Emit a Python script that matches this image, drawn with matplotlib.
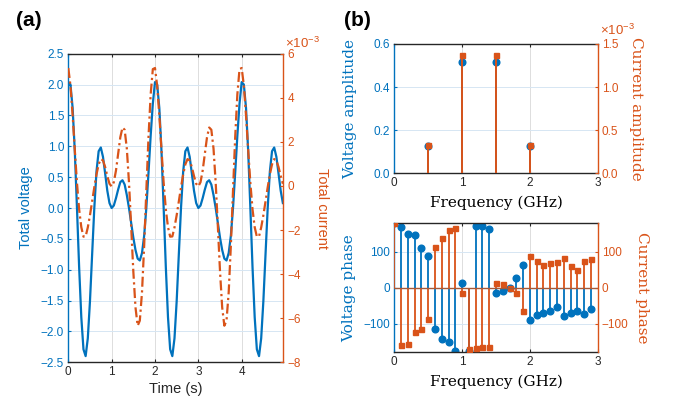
import numpy as np
import matplotlib.pyplot as plt

# ── Colours (Matlab-like defaults) ──────────────────────────────────────────
BLUE   = "#0072BD"
ORANGE = "#D95319"
DARK   = "#262626"
GRID_H = "#d6e6f3"   # horizontal grid follows the left (blue) axis
GRID_V = "#dddddd"
BASE   = "#a65a3a"

plt.rcParams.update({
    "font.family":       ["Liberation Sans", "DejaVu Sans"],
    "mathtext.fontset":  "custom",
    "mathtext.rm":       "Liberation Sans",
    "mathtext.it":       "Liberation Sans:italic",
    "axes.unicode_minus": True,
    "xtick.labelsize":   8.5,
    "ytick.labelsize":   8.5,
})
SERIF = ["DejaVu Serif"]

# ── Data: (a) time signals, one sample every 0.05 s ────────────────────────
time_s = np.arange(100) * 0.05

total_voltage = [
    2.04, 2.00, 1.62, 0.92, 0.00, -0.96, -1.77, -2.29, -2.40, -2.11,
    -1.51, -0.75, 0.00, 0.59, 0.92, 0.98, 0.83, 0.56, 0.28, 0.08,
    0.00, 0.04, 0.16, 0.30, 0.42, 0.45, 0.38, 0.21, 0.00, -0.24,
    -0.48, -0.68, -0.82, -0.85, -0.73, -0.45, 0.00, 0.57, 1.17, 1.69,
    2.04, 2.00, 1.62, 0.92, 0.00, -0.96, -1.77, -2.29, -2.40, -2.11,
    -1.51, -0.75, 0.00, 0.59, 0.92, 0.98, 0.83, 0.56, 0.28, 0.08,
    0.00, 0.04, 0.16, 0.30, 0.42, 0.45, 0.38, 0.21, 0.00, -0.24,
    -0.48, -0.68, -0.82, -0.85, -0.73, -0.45, 0.00, 0.57, 1.17, 1.69,
    2.04, 2.00, 1.62, 0.92, 0.00, -0.96, -1.77, -2.29, -2.40, -2.11,
    -1.51, -0.75, 0.00, 0.59, 0.92, 0.98, 0.83, 0.56, 0.28, 0.08,
]

# total current in units of 1e-3
total_current = [
    5.35, 4.55, 3.20, 1.63, 0.14, -1.06, -1.87, -2.30, -2.29, -1.88,
    -1.33, -0.70, -0.06, 0.52, 0.98, 1.22, 1.16, 0.86, 0.45, 0.10,
    -0.02, 0.17, 0.70, 1.46, 2.21, 2.65, 2.55, 1.70, 0.16, -1.83,
    -3.87, -5.51, -6.34, -6.11, -4.83, -2.72, -0.21, 2.21, 4.15, 5.30,
    5.35, 4.55, 3.20, 1.63, 0.14, -1.06, -1.87, -2.30, -2.29, -1.88,
    -1.33, -0.70, -0.06, 0.52, 0.98, 1.22, 1.16, 0.86, 0.45, 0.10,
    -0.02, 0.17, 0.70, 1.46, 2.21, 2.65, 2.55, 1.70, 0.16, -1.83,
    -3.87, -5.51, -6.34, -6.11, -4.83, -2.72, -0.21, 2.21, 4.15, 5.30,
    5.35, 4.55, 3.20, 1.63, 0.14, -1.06, -1.87, -2.30, -2.29, -1.88,
    -1.33, -0.70, -0.06, 0.52, 0.98, 1.22, 1.16, 0.86, 0.45, 0.10,
]

# ── Data: (b) spectra ───────────────────────────────────────────────────────
amp_freq = [0.5, 1.0, 1.5, 2.0]
volt_amp = [0.125, 0.515, 0.515, 0.125]
curr_amp = [0.33, 1.37, 1.37, 0.33]          # x 1e-3

phase_freq = np.arange(30) * 0.1
volt_phase = [180, 169, 150, 147, 112, 90, -115, -144, -151, -176,
              14, -176, 172, 172, 164, -14, -10, 0, 28, 64,
              -90, -75, -70, -64, -53, -78, -69, -64, -74, -59]
curr_phase = [180, -161, -158, -123, -114, -88, 114, 139, 161, 167,
              -14, -170, -169, -165, -165, 14, 10, 0, -14, -66,
              90, 75, 64, 69, 71, 83, 60, 50, 74, 80]


def fmt(vals, spec):
    return [format(v, spec).replace("-", "\u2212") for v in vals]


def style_pair(ax, ax2, xlim, xticks, yl, ylt, ylfmt, yr, yrt, yrfmt):
    ax.set_xlim(*xlim)
    ax.set_xticks(xticks)
    ax.set_xticklabels(fmt(xticks, "g"))
    ax.set_ylim(*yl)
    ax.set_yticks(ylt)
    ax.set_yticklabels(fmt(ylt, ylfmt))
    ax2.set_ylim(*yr)
    ax2.set_yticks(yrt)
    ax2.set_yticklabels(fmt(yrt, yrfmt))

    ax.set_axisbelow(True)
    ax.grid(axis="y", color=GRID_H, linewidth=0.7)
    ax.grid(axis="x", color=GRID_V, linewidth=0.7)

    ax.tick_params(axis="x", direction="in", length=2.5, colors=DARK,
                   top=True, pad=3)
    ax.tick_params(axis="y", direction="in", length=2.5, colors=BLUE, pad=3)
    ax2.tick_params(axis="y", direction="in", length=2.5, colors=ORANGE, pad=3)

    for sp in ("top", "bottom"):
        ax.spines[sp].set_color(DARK)
        ax.spines[sp].set_linewidth(1.0)
    ax.spines["left"].set_color(BLUE)
    ax.spines["right"].set_visible(False)
    for sp in ("left", "top", "bottom"):
        ax2.spines[sp].set_visible(False)
    ax2.spines["right"].set_color(ORANGE)
    ax.spines["left"].set_linewidth(1.0)
    ax2.spines["right"].set_linewidth(1.0)


W, H = 673, 405
fig = plt.figure(figsize=(W / 100, H / 100), dpi=100)
fig.patch.set_facecolor("white")


def rect(x0, y0, x1, y1):
    return [x0 / W, 1 - y1 / H, (x1 - x0) / W, (y1 - y0) / H]


# ═══════════════════════ (a) time domain ═══════════════════════════════════
axa = fig.add_axes(rect(68.3, 53.7, 283.3, 362.3))
axa2 = axa.twinx()
axa.plot(time_s, total_voltage, color=BLUE, linewidth=1.6)
axa2.plot(time_s, total_current, color=ORANGE, linewidth=1.6,
          linestyle=(0, (4.5, 1.6, 1.0, 1.6)))
style_pair(axa, axa2, (0, 4.96), [0, 1, 2, 3, 4],
           (-2.5, 2.5), [-2.5, -2.0, -1.5, -1.0, -0.5, 0.0, 0.5, 1.0, 1.5, 2.0, 2.5], ".1f",
           (-8, 6), [-8, -6, -4, -2, 0, 2, 4, 6], "d")
axa.text(-0.195, 0.5, "Total voltage", transform=axa.transAxes, rotation=90,
         ha="center", va="center", color=BLUE, fontsize=10.5)
axa2.text(1.18, 0.5, "Total current", transform=axa2.transAxes, rotation=270,
          ha="center", va="center", color=ORANGE, fontsize=10.5)
axa.text(0.5, -0.065, "Time (s)", transform=axa.transAxes,
         ha="center", va="top", color=DARK, fontsize=10.5)
axa2.text(1.01, 1.01, r"$\times10^{-3}$", transform=axa2.transAxes,
          ha="left", va="bottom", color=ORANGE, fontsize=9.5)

# ═══════════════════════ (b) top: amplitude spectra ════════════════════════
axb = fig.add_axes(rect(394.3, 44.0, 597.7, 173.3))
axb2 = axb.twinx()
m, s, b = axb.stem(amp_freq, volt_amp, basefmt=" ")
plt.setp(s, color=BLUE, linewidth=1.3)
plt.setp(m, color=BLUE, markersize=4.8)
m, s, b = axb2.stem(amp_freq, curr_amp, basefmt=" ")
plt.setp(s, color=ORANGE, linewidth=1.4)
plt.setp(m, color=ORANGE, marker="s", markersize=3.6)
style_pair(axb, axb2, (0, 3), [0, 1, 2, 3],
           (0, 0.6), [0.0, 0.2, 0.4, 0.6], ".1f",
           (0, 1.5), [0.0, 0.5, 1.0, 1.5], ".1f")
axb.text(-0.215, 0.5, "Voltage amplitude", transform=axb.transAxes,
         rotation=90, ha="center", va="center", color=BLUE,
         fontsize=11, family=SERIF)
axb2.text(1.19, 0.5, "Current amplitude", transform=axb2.transAxes,
          rotation=270, ha="center", va="center", color=ORANGE,
          fontsize=11, family=SERIF)
axb.text(0.5, -0.17, "Frequency (GHz)", transform=axb.transAxes,
         ha="center", va="top", color="black", fontsize=11, family=SERIF)
axb2.text(1.01, 1.05, r"$\times10^{-3}$", transform=axb2.transAxes,
          ha="left", va="bottom", color=ORANGE, fontsize=9.5)

# ═══════════════════════ (b) bottom: phase spectra ═════════════════════════
axp = fig.add_axes(rect(394.3, 223.3, 597.7, 352.3))
axp2 = axp.twinx()
m, s, b = axp.stem(phase_freq, volt_phase, basefmt=" ")
plt.setp(s, color=BLUE, linewidth=1.3)
plt.setp(m, color=BLUE, markersize=4.8)
m, s, b = axp2.stem(phase_freq, curr_phase, basefmt=" ")
plt.setp(s, color=ORANGE, linewidth=1.3)
plt.setp(m, color=ORANGE, marker="s", markersize=3.6)
axp2.axhline(0, color=BASE, linewidth=1.0)
style_pair(axp, axp2, (0, 3), [0, 1, 2, 3],
           (-180, 180), [-100, 0, 100], "d",
           (-180, 180), [-100, 0, 100], "d")
axp.text(-0.22, 0.5, "Voltage phase", transform=axp.transAxes,
         rotation=90, ha="center", va="center", color=BLUE,
         fontsize=11, family=SERIF)
axp2.text(1.22, 0.5, "Current phase", transform=axp2.transAxes,
          rotation=270, ha="center", va="center", color=ORANGE,
          fontsize=11, family=SERIF)
axp.text(0.5, -0.17, "Frequency (GHz)", transform=axp.transAxes,
         ha="center", va="top", color="black", fontsize=11, family=SERIF)

# ── Panel letters ───────────────────────────────────────────────────────────
fig.text(29 / W, 1 - 20 / H, "(a)", ha="center", va="center",
         fontsize=15, fontweight="bold", color="black")
fig.text(357 / W, 1 - 20 / H, "(b)", ha="center", va="center",
         fontsize=15, fontweight="bold", color="black")

fig.savefig("out.png", dpi=100)
